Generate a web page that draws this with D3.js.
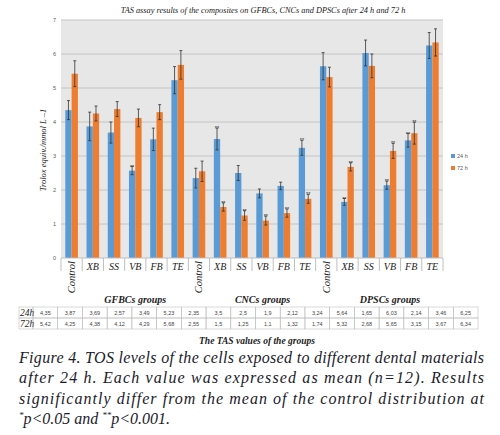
<!DOCTYPE html>
<html><head><meta charset="utf-8">
<script src="https://cdn.jsdelivr.net/npm/d3@7/dist/d3.min.js"></script>
<style>body{margin:0;background:#fff}svg{display:block}</style>
</head><body>
<svg id="c" width="500" height="435"></svg>
<script>
const categories = ["Control","XB","SS","VB","FB","TE","Control","XB","SS","VB","FB","TE","Control","XB","SS","VB","FB","TE"];
const groupNames = ["GFBCs groups","CNCs groups","DPSCs groups"];
const seriesNames = ["24 h","72 h"];
const rowLabels = ["24h","72h"];
const values24 = [4.35,3.87,3.69,2.57,3.49,5.23,2.35,3.5,2.5,1.9,2.12,3.24,5.64,1.65,6.03,2.14,3.46,6.25];
const values72 = [5.42,4.25,4.38,4.12,4.29,5.68,2.55,1.5,1.25,1.1,1.32,1.74,5.32,2.68,5.65,3.15,3.67,6.34];
const err24 = [0.28,0.42,0.31,0.12,0.33,0.4,0.29,0.32,0.22,0.13,0.11,0.22,0.4,0.1,0.38,0.12,0.2,0.38];
const err72 = [0.38,0.22,0.22,0.26,0.22,0.42,0.3,0.12,0.14,0.13,0.12,0.13,0.29,0.12,0.35,0.22,0.32,0.4];
const sig24 = ["","","","**","","","","**","","","","**","","**","","**","**",""];
const sig72 = ["","","","","","","","**","**","**","**","**","","**","","**","**",""];
const yTicks = [0,1,2,3,4,5,6,7];
const titleText = "TAS assay results of the composites on GFBCs, CNCs and DPSCs after 24 h and 72 h";
const yTitle = "Trolox equiv./mmol L –1";
const xTitle = "The TAS values of the groups";
const captionLines = [
 "Figure 4. TOS levels of the cells exposed to different dental materials",
 "after 24 h. Each value was expressed as mean (n=12). Results",
 "significantly differ from the mean of the control distribution at"
];

const svg = d3.select("#c");
const L=61, R=443, T=20, B=258;
const x0 = d3.scaleBand().domain(d3.range(categories.length)).range([L,R]).padding(0);
const x1 = d3.scaleBand().domain(seriesNames).range([0,x0.bandwidth()]).paddingInner(0).paddingOuter(0.68);
const y = d3.scaleLinear().domain([0,7]).range([B,T]);
const colors = {"24 h":"#5b9bd5","72 h":"#ed7d31"};
const serif = "'Liberation Serif','Times New Roman',serif";
const sans = "'Liberation Sans',Arial,sans-serif";

svg.append("rect").attr("x",L).attr("y",T).attr("width",R-L).attr("height",B-T).attr("fill","#e7e7e7");
svg.append("g").selectAll("line").data(yTicks.slice(1)).join("line")
  .attr("x1",L).attr("x2",R).attr("y1",d=>y(d)).attr("y2",d=>y(d))
  .attr("stroke","#c4c4c4").attr("stroke-width",1);
const yAxis = d3.axisLeft(y).tickValues(yTicks).tickFormat(d3.format("d")).tickSize(0).tickPadding(5);
const ya = svg.append("g").attr("transform",`translate(${L},0)`).call(yAxis);
ya.select(".domain").remove();
ya.selectAll("text").attr("font-family",sans).attr("font-size",5.5).attr("fill","#595959");

const data = categories.map((c,i)=>({i, s:[
  {k:"24 h",v:values24[i],e:err24[i],sig:sig24[i]},
  {k:"72 h",v:values72[i],e:err72[i],sig:sig72[i]}]}));
const cat = svg.append("g").selectAll("g").data(data).join("g")
  .attr("transform",d=>`translate(${x0(d.i)},0)`);
cat.selectAll("rect").data(d=>d.s).join("rect")
  .attr("x",d=>x1(d.k)).attr("width",x1.bandwidth())
  .attr("y",d=>y(d.v)).attr("height",d=>y(0)-y(d.v)).attr("fill",d=>colors[d.k]);
const eb = cat.selectAll("g.eb").data(d=>d.s).join("g").attr("class","eb");
eb.append("line").attr("x1",d=>x1(d.k)+x1.bandwidth()/2).attr("x2",d=>x1(d.k)+x1.bandwidth()/2)
  .attr("y1",d=>y(d.v+d.e)).attr("y2",d=>y(d.v-d.e)).attr("stroke","#333").attr("stroke-width",0.8);
eb.selectAll("line.cap").data(d=>[{d,t:d.v+d.e},{d,t:d.v-d.e}]).join("line").attr("class","cap")
  .attr("x1",o=>x1(o.d.k)+x1.bandwidth()/2-1.5).attr("x2",o=>x1(o.d.k)+x1.bandwidth()/2+1.5)
  .attr("y1",o=>y(o.t)).attr("y2",o=>y(o.t)).attr("stroke","#333").attr("stroke-width",0.8);
eb.filter(d=>d.sig).append("text").attr("x",d=>x1(d.k)+x1.bandwidth()/2).attr("y",d=>y(d.v+d.e)+2)
  .attr("text-anchor","middle").attr("font-family",sans).attr("font-size",5.5).attr("fill","#333").text(d=>d.sig);

svg.append("line").attr("x1",L).attr("x2",R).attr("y1",B).attr("y2",B).attr("stroke","#bfbfbf");
const bounds = d3.range(categories.length+1).map(i=> i<categories.length? x0(i): R);
svg.append("g").selectAll("line").data(bounds).join("line")
  .attr("x1",d=>d).attr("x2",d=>d).attr("y1",B).attr("y2",B+13).attr("stroke","#bfbfbf");
svg.append("g").selectAll("text").data(categories.map((c,i)=>({c,i}))).join("text")
  .attr("font-family",serif).attr("font-style","italic").attr("font-size",10).attr("fill","#222")
  .each(function(d){
    const cx = x0(d.i)+x0.bandwidth()/2;
    const t = d3.select(this);
    if(d.c==="Control"){
      t.attr("transform",`translate(${cx+3.5},${B+3}) rotate(-90)`).attr("text-anchor","end").attr("font-size",10.5).text(d.c);
    } else {
      t.attr("x",cx).attr("y",B+12).attr("text-anchor","middle").text(d.c);
    }
  });
svg.append("g").selectAll("text").data(groupNames).join("text")
  .attr("x",(d,g)=> (x0(g*6+1)+x0(g*6+5)+x0.bandwidth())/2).attr("y",B+45)
  .attr("text-anchor","middle").attr("font-family",serif).attr("font-style","italic").attr("font-weight","bold")
  .attr("font-size",10).attr("fill","#222").text(d=>d);

const tx = d3.scaleBand().domain(d3.range(categories.length)).range([33,478]).padding(0);
const rowTop = 307, rowH = 11, hdrL = 19;
const tbl = svg.append("g");
[values24,values72].forEach((vals,r)=>{
  const yy = rowTop + r*rowH;
  tbl.append("rect").attr("x",hdrL).attr("y",yy).attr("width",tx(0)-hdrL).attr("height",rowH)
    .attr("fill","none").attr("stroke","#bfbfbf").attr("stroke-width",0.6);
  tbl.append("text").attr("x",hdrL+1).attr("y",yy+rowH-2.5).attr("font-family",serif).attr("font-style","italic")
    .attr("font-size",9.5).attr("fill","#222").text(rowLabels[r]);
  tbl.selectAll(null).data(vals).join("rect").attr("x",(d,i)=>tx(i)).attr("y",yy)
    .attr("width",tx.bandwidth()).attr("height",rowH).attr("fill","none").attr("stroke","#bfbfbf").attr("stroke-width",0.6);
  tbl.selectAll(null).data(vals).join("text").attr("x",(d,i)=>tx(i)+tx.bandwidth()/2).attr("y",yy+rowH-3.5)
    .attr("text-anchor","middle").attr("font-family",sans).attr("font-size",5.5).attr("fill","#444")
    .text(d=>String(d).replace(".",","));
});

svg.append("text").attr("x",263).attr("y",13).attr("text-anchor","middle").attr("font-family",serif)
  .attr("font-style","italic").attr("font-size",8.3).attr("fill","#222").text(titleText);
svg.append("text").attr("transform","translate(46,150) rotate(-90)").attr("text-anchor","middle")
  .attr("font-family",serif).attr("font-style","italic").attr("font-size",8.5).attr("fill","#222").text(yTitle);
svg.append("text").attr("x",257).attr("y",344).attr("text-anchor","middle").attr("font-family",serif)
  .attr("font-style","italic").attr("font-weight","bold").attr("font-size",9.5).attr("fill","#222").text(xTitle);

const lg = svg.append("g").selectAll("g").data(seriesNames).join("g")
  .attr("transform",(d,i)=>`translate(451,${154+i*12})`);
lg.append("rect").attr("width",4).attr("height",4).attr("fill",d=>colors[d]);
lg.append("text").attr("x",6).attr("y",4).attr("font-family",sans).attr("font-size",5.5).attr("fill","#595959").text(d=>d);

const cap = svg.append("g").attr("font-family",serif).attr("font-style","italic").attr("font-size",16).attr("fill","#1b1b2b");
captionLines.forEach((t,i)=>{
  cap.append("text").attr("x",19).attr("y",363+i*20.3).attr("textLength",465).attr("lengthAdjust","spacing").text(t);
});
const l4 = cap.append("text").attr("x",19).attr("y",424);
l4.append("tspan").attr("font-size",9).attr("dy",-6).text("*");
l4.append("tspan").attr("dy",6).text("p<0.05 and ");
l4.append("tspan").attr("font-size",9).attr("dy",-6).text("**");
l4.append("tspan").attr("dy",6).text("p<0.001.");
</script>
</body></html>
